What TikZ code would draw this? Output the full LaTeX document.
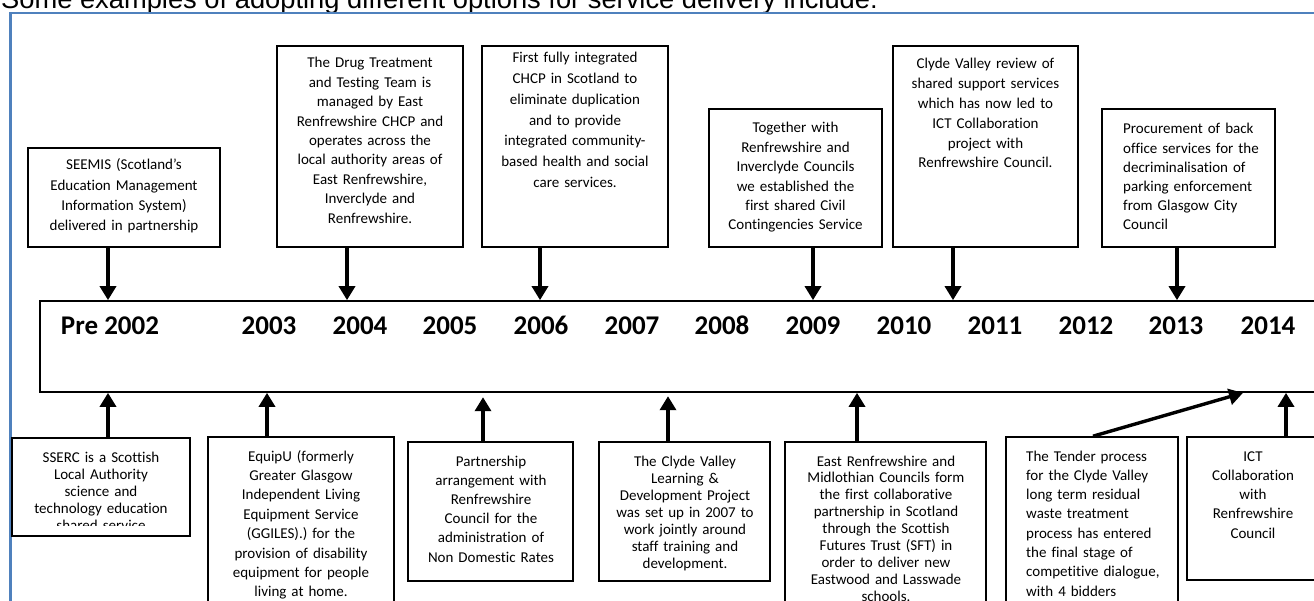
\documentclass[tikz,border=0pt]{standalone}
\usepackage{fontspec}
\setmainfont{Carlito}[Ligatures=NoCommon]
\newfontfamily\titlefont{Liberation Sans}
\usetikzlibrary{arrows.meta,fit}
\definecolor{frameblue}{RGB}{79,129,189}
\begin{document}
\begin{tikzpicture}[x=1pt,y=-1pt,
  box/.style={draw=black, line width=1.6pt, inner sep=0pt},
  txt/.style={inner sep=0pt, anchor=base, align=center},
  ltxt/.style={inner sep=0pt, anchor=base west, align=left},
  yearlbl/.style={inner sep=0pt, anchor=base, font=\bfseries\fontsize{27}{27}\selectfont},
  arr/.style={line width=3.4pt, -{Triangle[width=16pt,length=14pt]}},
  ]
\useasboundingbox (0,0) rectangle (1314,601);
\clip (0,0) rectangle (1314,601);

% title and frame
\node[inner sep=0pt, anchor=base west, font=\titlefont\fontsize{27.3}{27.3}\selectfont] (title) at (1,9) {Some examples of adopting different options for service delivery include:};
\draw[frameblue, line width=2.2pt] (10.5,700) -- (10.5,13) -- (1400,13);

% timeline
\node[box, line width=1.7pt, fit={(40,301) (1340,392)}] (tl) {};
\node[yearlbl] (y02) at (110,335) {Pre 2002};
\node[yearlbl] (y03) at (269,335) {2003};
\node[yearlbl] (y04) at (360,335) {2004};
\node[yearlbl] (y05) at (450,335) {2005};
\node[yearlbl] (y06) at (541,335) {2006};
\node[yearlbl] (y07) at (632,335) {2007};
\node[yearlbl] (y08) at (722,335) {2008};
\node[yearlbl] (y09) at (813,335) {2009};
\node[yearlbl] (y10) at (904,335) {2010};
\node[yearlbl] (y11) at (995,335) {2011};
\node[yearlbl] (y12) at (1086,335) {2012};
\node[yearlbl] (y13) at (1176,335) {2013};
\node[yearlbl] (y14) at (1268,335) {2014};

% top boxes
\node[box, fit={(28,148) (220,247)}] (seemis) {};
\node[txt, text width=190pt, font=\fontsize{15}{20.3}\selectfont] (seemisT) at (124,170) {SEEMIS (Scotland’s\\Education Management\\Information System)\\delivered in partnership};

\node[box, fit={(277,46) (463,247)}] (drug) {};
\node[txt, text width=186pt, font=\fontsize{15}{19.4}\selectfont] (drugT) at (370,68) {The Drug Treatment\\and Testing Team is\\managed by East\\Renfrewshire CHCP and\\operates across the\\local authority areas of\\East Renfrewshire,\\Inverclyde and\\Renfrewshire.};

\node[box, fit={(482,46) (668,247)}] (chcp) {};
\node[txt, text width=186pt, font=\fontsize{15}{20.7}\selectfont] (chcpT) at (575,63) {First fully integrated\\CHCP in Scotland to\\eliminate duplication\\and to provide\\integrated community-\\based health and social\\care services.};

\node[box, fit={(709,109) (882,247)}] (civil) {};
\node[txt, text width=173pt, font=\fontsize{15}{19.4}\selectfont] (civilT) at (795.5,133) {Together with\\Renfrewshire and\\Inverclyde Councils\\we established the\\first shared Civil\\Contingencies Service};

\node[box, fit={(893,46) (1078,247)}] (review) {};
\node[txt, text width=185pt, font=\fontsize{15}{19.8}\selectfont] (reviewT) at (985.5,69) {Clyde Valley review of\\shared support services\\which has now led to\\ICT Collaboration\\project with\\Renfrewshire Council.};

\node[box, fit={(1102,109) (1275,247)}] (parking) {};
\node[ltxt, text width=150pt, font=\fontsize{15}{19.2}\selectfont] (parkingT) at (1123,134) {Procurement of back\\office services for the\\decriminalisation of\\parking enforcement\\from Glasgow City\\Council};

% bottom boxes
\node[box, fit={(12,438) (190,536)}] (sserc) {};
\begin{scope}
\clip (12,438) rectangle (190,525.5);
\node[txt, text width=178pt, font=\fontsize{15}{17}\selectfont] (ssercT) at (101,462) {SSERC is a Scottish\\Local Authority\\science and\\technology education\\shared service};
\end{scope}

\node[box, fit={(208,437) (394,640)}] (equipu) {};
\node[txt, text width=186pt, font=\fontsize{15}{19.4}\selectfont] (equipuT) at (301,461) {EquipU (formerly\\Greater Glasgow\\Independent Living\\Equipment Service\\(GGILES).) for the\\provision of disability\\equipment for people\\living at home.};

\node[box, fit={(408,442) (573,581)}] (rates) {};
\node[txt, text width=165pt, font=\fontsize{15}{19.2}\selectfont] (ratesT) at (491,466) {Partnership\\arrangement with\\Renfrewshire\\Council for the\\administration of\\Non Domestic Rates};

\node[box, fit={(599,442) (770,581)}] (learn) {};
\node[txt, text width=171pt, font=\fontsize{15}{17}\selectfont] (learnT) at (685,466) {The Clyde Valley\\Learning \&\\Development Project\\was set up in 2007 to\\work jointly around\\staff training and\\development.};

\node[box, fit={(785,442) (986,640)}] (schools) {};
\node[txt, text width=201pt, font=\fontsize{15}{16.9}\selectfont] (schoolsT) at (886,466) {East Renfrewshire and\\Midlothian Councils form\\the first collaborative\\partnership in Scotland\\through the Scottish\\Futures Trust (SFT) in\\order to deliver new\\Eastwood and Lasswade\\schools.};

\node[box, fit={(1006,437) (1178,640)}] (waste) {};
\node[ltxt, text width=150pt, font=\fontsize{15}{19.3}\selectfont] (wasteT) at (1026,461) {The Tender process\\for the Clyde Valley\\long term residual\\waste treatment\\process has entered\\the final stage of\\competitive dialogue,\\with 4 bidders};

\node[box, fit={(1187,437) (1340,580)}] (ict) {};
\node[txt, text width=130pt, font=\fontsize{15}{19.3}\selectfont] (ictT) at (1253,461) {ICT\\Collaboration\\with\\Renfrewshire\\Council};

% arrow x positions
\coordinate (a1) at (108,0);
\coordinate (a2) at (347,0);
\coordinate (a3) at (540,0);
\coordinate (a4) at (813,0);
\coordinate (a5) at (953,0);
\coordinate (a6) at (1177,0);
\coordinate (b1) at (108,0);
\coordinate (b2) at (267,0);
\coordinate (b3) at (483,0);
\coordinate (b4) at (668,0);
\coordinate (b5) at (857,0);
\coordinate (b6s) at (1093,0);
\coordinate (b6e) at (1243,0);
\coordinate (b7) at (1286,0);

% top arrows
\draw[arr] (seemis.south -| a1) -- (tl.north -| a1);
\draw[arr] (drug.south -| a2) -- (tl.north -| a2);
\draw[arr] (chcp.south -| a3) -- (tl.north -| a3);
\draw[arr] (civil.south -| a4) -- (tl.north -| a4);
\draw[arr] (review.south -| a5) -- (tl.north -| a5);
\draw[arr] (parking.south -| a6) -- (tl.north -| a6);

% bottom arrows
\draw[arr] (sserc.north -| b1) -- (tl.south -| b1);
\draw[arr] (equipu.north -| b2) -- (tl.south -| b2);
\draw[arr] (rates.north -| b3) -- ++(0,-44);
\draw[arr] (learn.north -| b4) -- ++(0,-45);
\draw[arr] (schools.north -| b5) -- (tl.south -| b5);
\draw[arr] (waste.north -| b6s) -- (tl.south -| b6e);
\draw[arr] (ict.north -| b7) -- (tl.south -| b7);
\end{tikzpicture}
\end{document}
